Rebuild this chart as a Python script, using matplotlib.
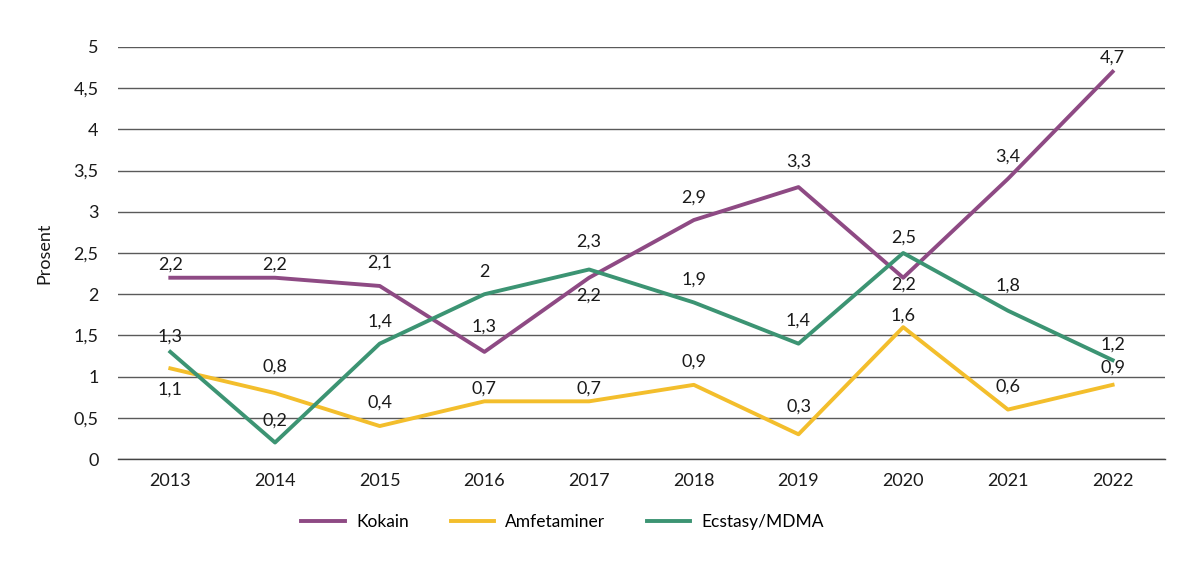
import numpy as np
import matplotlib
matplotlib.use("Agg")
from matplotlib import pyplot as plt

years = [2013, 2014, 2015, 2016, 2017, 2018, 2019, 2020, 2021, 2022]
kokain = [2.2, 2.2, 2.1, 1.3, 2.2, 2.9, 3.3, 2.2, 3.4, 4.7]
amfetaminer = [1.1, 0.8, 0.4, 0.7, 0.7, 0.9, 0.3, 1.6, 0.6, 0.9]
ecstasy = [1.3, 0.2, 1.4, 2.0, 2.3, 1.9, 1.4, 2.5, 1.8, 1.2]

# vertical shift of each value label, pixels (negative = above the point)
shift_kokain = [-13, -13, -23, -25, 18, -22, -25, 7, -22, -14]
shift_amf = [21, -26, -23, -13, -13, -23, -28, -12, -23, -17]
shift_ecs = [-15, -22, -22, -22, -28, -23, -23, -15, -25, -16]

series = [
    ("Kokain", kokain, shift_kokain, "#8e4a84"),
    ("Amfetaminer", amfetaminer, shift_amf, "#f3be2c"),
    ("Ecstasy/MDMA", ecstasy, shift_ecs, "#3c9473"),
]

plt.rcParams['font.family'] = ['Lato', 'DejaVu Sans']

fig = plt.figure(figsize=(12, 5.69), dpi=100)
ax = fig.add_axes([0.0983, 0.1933, 0.8725, 0.7241])


def fmt(v):
    return ("%g" % v).replace(".", ",")


for name, vals, shifts, col in series:
    ax.plot(years, vals, color=col, lw=2.8, label=name, zorder=3)
    for x, v, dy in zip(years, vals, shifts):
        ax.annotate(fmt(v), (x, v), xytext=(0, -dy), textcoords="offset pixels",
                    ha="center", va="center", fontsize=13, color="#1a1a1a", zorder=4)

ax.set_xlim(2012.5, 2022.5)
ax.set_ylim(0, 5)
ticks = np.arange(0, 5.01, 0.5)
ax.set_yticks(ticks)
ax.set_yticklabels([fmt(t) for t in ticks])
ax.set_xticks(years)
ax.grid(axis="y", color="#5a5a5a", lw=1.0, zorder=1)
for s in ["top", "right", "left"]:
    ax.spines[s].set_visible(False)
ax.spines["bottom"].set_color("#444444")
ax.spines["bottom"].set_linewidth(1.0)
ax.tick_params(length=0, labelsize=13, colors="#1a1a1a")
ax.tick_params(axis="y", pad=14)
ax.tick_params(axis="x", pad=10)
ax.set_ylabel("Prosent", fontsize=13, labelpad=15, color="#1a1a1a")

fig.legend(loc="center", bbox_to_anchor=(0.469, 0.083), ncol=3, frameon=False,
           fontsize=12.5, handlelength=2.5, columnspacing=2.4, handletextpad=0.65)

fig.savefig("out.png", dpi=100)
